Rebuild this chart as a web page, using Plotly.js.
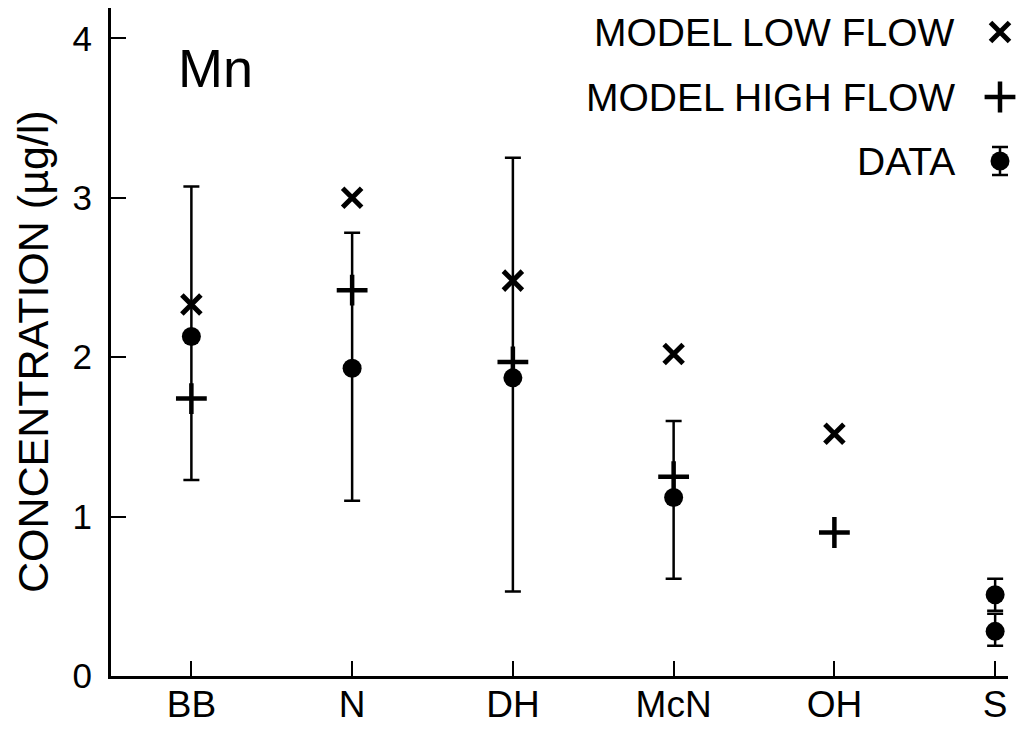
<!DOCTYPE html>
<html>
<head>
<meta charset="utf-8">
<script src="https://cdn.plot.ly/plotly-3.0.1.min.js"></script>
<style>html,body{margin:0;padding:0;background:#fff;}#chart{width:1019px;height:730px;}</style>
</head>
<body>
<div id="chart"></div>
<script>
// ---- data ----
const sites = ['BB', 'N', 'DH', 'McN', 'OH', 'S'];
const modelSites = ['BB', 'N', 'DH', 'McN', 'OH'];
const modelLowFlow = [2.33, 3.00, 2.48, 2.02, 1.52];
const modelHighFlow = [1.74, 2.42, 1.97, 1.25, 0.90];
const dataSites = ['BB', 'N', 'DH', 'McN', 'S', 'S'];
const dataMean = [2.13, 1.93, 1.87, 1.12, 0.51, 0.28];
const dataUpper = [3.07, 2.78, 3.25, 1.60, 0.61, 0.39];
const dataLower = [1.23, 1.10, 0.53, 0.61, 0.41, 0.19];
const yTicks = [0, 1, 2, 3, 4];
const legendLabels = ['MODEL LOW FLOW', 'MODEL HIGH FLOW', 'DATA'];
const yTitle = 'CONCENTRATION (µg/l)';
const element = 'Mn';

// ---- styling ----
const FONT = 'Liberation Sans, Arial, Helvetica, sans-serif';
const INK = '#000000';
const errPlus = dataUpper.map((u, i) => +(u - dataMean[i]).toFixed(3));
const errMinus = dataLower.map((l, i) => +(dataMean[i] - l).toFixed(3));

const lowMarker = {symbol: 'x-thin', size: 19, color: INK, line: {color: INK, width: 5}};
const highMarker = {symbol: 'cross-thin', size: 22, color: INK, line: {color: INK, width: 4.5}};
const dotMarker = {symbol: 'circle', size: 19, color: INK};

// legend key layout (pixel space on an overlay axis)
const keyX = [1000, 1000, 1000];
const keyY = [32, 97, 161];

const traces = [
  {type: 'scatter', mode: 'markers', x: dataSites, y: dataMean, marker: dotMarker,
   error_y: {type: 'data', symmetric: false, array: errPlus, arrayminus: errMinus,
             color: INK, thickness: 2.5, width: 8}, cliponaxis: false, hoverinfo: 'x+y'},
  {type: 'scatter', mode: 'markers', x: modelSites, y: modelLowFlow, marker: lowMarker, cliponaxis: false},
  {type: 'scatter', mode: 'markers', x: modelSites, y: modelHighFlow, marker: highMarker, cliponaxis: false},
  // legend keys
  {type: 'scatter', mode: 'markers', xaxis: 'x2', yaxis: 'y2', x: [keyX[0]], y: [keyY[0]], marker: lowMarker, cliponaxis: false},
  {type: 'scatter', mode: 'markers', xaxis: 'x2', yaxis: 'y2', x: [keyX[1]], y: [keyY[1]], marker: highMarker, cliponaxis: false},
  {type: 'scatter', mode: 'markers', xaxis: 'x2', yaxis: 'y2', x: [keyX[2]], y: [keyY[2]], marker: dotMarker, cliponaxis: false,
   error_y: {type: 'constant', value: 14, color: INK, thickness: 2.5, width: 8}}
];

const L = 111, R = 1008, T = 8, B = 676;
const annotations = legendLabels.map((t, i) => ({
  text: t, xref: 'x2', yref: 'y2', x: 957, y: keyY[i], xanchor: 'right', yanchor: 'middle',
  showarrow: false, font: {family: FONT, size: 39, color: INK}
}));
annotations.push({text: element, xref: 'x2', yref: 'y2', x: 176, y: 68, xanchor: 'left', yanchor: 'middle',
  showarrow: false, font: {family: FONT, size: 54, color: INK}});
// y-axis title placed as rotated text
annotations.push({text: yTitle, xref: 'paper', yref: 'paper', x: (33 - L) / (R - L), y: 1 - (352 - T) / (B - T),
  xanchor: 'center', yanchor: 'middle', textangle: -90, showarrow: false,
  font: {family: FONT, size: 43, color: INK}});

const layout = {
  width: 1019, height: 730,
  margin: {l: L, r: 1019 - R, t: T, b: 730 - B, pad: 0},
  paper_bgcolor: '#ffffff', plot_bgcolor: '#ffffff',
  showlegend: false,
  font: {family: FONT, color: INK},
  xaxis: {
    type: 'category', categoryorder: 'array', categoryarray: sites,
    range: [-0.5, 5.08], showgrid: false, zeroline: false,
    showline: true, linecolor: INK, linewidth: 3,
    ticks: 'inside', ticklen: 15, tickwidth: 2, tickcolor: INK,
    tickfont: {family: FONT, size: 37, color: INK}, ticklabelstandoff: -6
  },
  yaxis: {
    range: [0, 4.19], tickvals: yTicks, ticktext: yTicks.map(String),
    showgrid: false, zeroline: false,
    showline: true, linecolor: INK, linewidth: 3,
    ticks: 'inside', ticklen: 15, tickwidth: 2, tickcolor: INK,
    tickfont: {family: FONT, size: 35, color: INK}, ticklabelstandoff: 9
  },
  xaxis2: {overlaying: 'x', range: [L, R], visible: false, fixedrange: true},
  yaxis2: {overlaying: 'y', range: [B, T], visible: false, fixedrange: true},
  annotations: annotations
};

Plotly.newPlot('chart', traces, layout, {staticPlot: true});
</script>
</body>
</html>
